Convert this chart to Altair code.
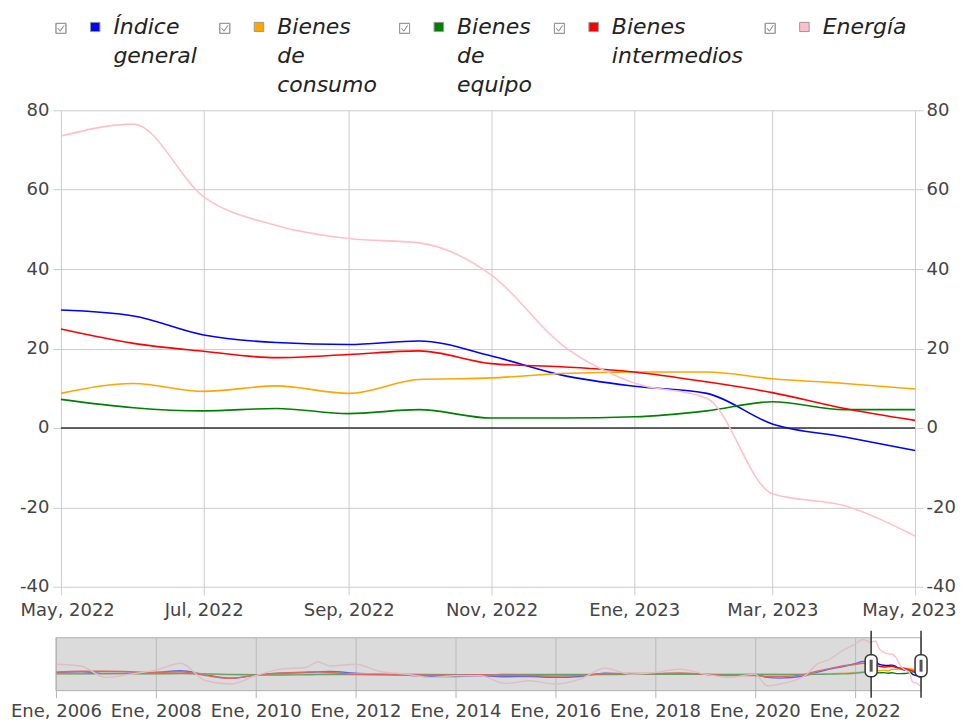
import altair as alt
import pandas as pd

# ---------------- data ----------------
series = ["Índice general", "Bienes de consumo", "Bienes de equipo", "Bienes intermedios", "Energía"]
colors = ["#0000ff", "#ffa500", "#008000", "#ff0000", "#ffc0cb"]
meses = ["Ene", "Feb", "Mar", "Abr", "May", "Jun", "Jul", "Ago", "Sep", "Oct", "Nov", "Dic"]

# zoomed period (monthly)
main_dates = ["2022-05", "2022-06", "2022-07", "2022-08", "2022-09", "2022-10", "2022-11",
              "2022-12", "2023-01", "2023-02", "2023-03", "2023-04", "2023-05"]
indice_main = [29.7, 28.2, 23.4, 21.5, 21.0, 21.9, 18.1, 13.3, 10.5, 8.7, 1.0, -2.3, -5.7]
consumo_main = [8.7, 11.2, 9.2, 10.6, 8.7, 12.2, 12.6, 13.7, 14.1, 14.1, 12.4, 11.2, 9.8]
equipo_main = [7.2, 5.1, 4.3, 4.9, 3.6, 4.6, 2.5, 2.5, 2.8, 4.3, 6.6, 4.6, 4.6]
intermedios_main = [24.9, 21.3, 19.3, 17.7, 18.5, 19.4, 16.2, 15.4, 14.1, 11.6, 8.9, 4.9, 1.9]
energia_main = [73.5, 76.5, 58.2, 51.0, 47.7, 46.6, 38.5, 21.0, 11.3, 7.5, -16.6, -19.6, -27.2]

# history shown in the navigator
hist_dates = ["2006-01", "2006-07", "2007-01", "2007-07", "2008-01", "2008-07", "2009-01", "2009-07",
              "2010-01", "2010-07", "2011-01", "2011-04", "2011-07", "2012-01", "2012-07", "2013-01",
              "2013-07", "2014-01", "2014-07", "2015-01", "2015-07", "2016-01", "2016-07", "2017-01",
              "2017-07", "2018-01", "2018-07", "2019-01", "2019-07", "2020-01", "2020-04", "2020-07",
              "2021-01", "2021-04", "2021-07", "2021-10", "2022-01", "2022-03"]
indice_hist = [5.3, 6.8, 3.0, 3.8, 5.3, 9.0, 0.0, -8.0, -0.8, 3.0, 5.3, 6.5, 7.5, 3.8, 1.5, -0.8,
               -3.8, -3.8, -2.3, -4.5, -3.8, -6.0, -3.8, 3.8, 0.8, 1.5, 2.3, 0.8, 0.0, 0.8, -6.0, -7.5,
               -2.3, 5.3, 12.8, 18.0, 25.0, 30.0]
consumo_hist = [3, 3, 3, 2.5, 3, 4, 2, 0, 0, 0.5, 1.5, 2, 2, 2.5, 2, 2,
                1.5, 0.5, 0, 0.5, 0, -0.5, -0.5, 1, 1.5, 1, 1, 1, 0.5, 1, 1.5, 1,
                0.5, 1.5, 2.5, 3.5, 5, 7]
equipo_hist = [2, 2, 2.5, 2.5, 2, 2.5, 2, 1, 0, -0.5, 0, 0.3, 0.5, 0.5, 0.5, 0,
               0, 0, 0, 0.5, 0.5, 0.5, 0.5, 0.5, 1, 1, 1, 1, 1, 0.5, 0.5, 0.5,
               0.5, 1, 1.5, 2, 3.5, 5]
intermedios_hist = [6, 8, 8, 7, 5, 7, -2, -8, -1, 4, 6, 6.5, 5, 1, 0, 0,
                    -1, -1, 0, -1, -1.5, -3, -2, 3, 3, 3, 4, 1, -2, -2, -4, -4,
                    1, 8, 14, 20, 23, 26]
energia_hist = [24, 20, -6, 1.5, 10.5, 26, -13.5, -21, -2.3, 12.8, 16.6, 29, 20, 24, 7.5, 1.5,
                -6, -2.3, -2.3, -19.6, -13.5, -21, -9.8, 15, 1.5, 5.3, 12.8, 1.5, -6, 1.5, -25, -21,
                -2.3, 24, 35, 54, 69, 80]

y_ticks = [-40, -20, 0, 20, 40, 60, 80]
main_tick_dates = main_dates[::2]
nav_tick_years = [2006, 2008, 2010, 2012, 2014, 2016, 2018, 2020, 2022]

main_cols = [indice_main, consumo_main, equipo_main, intermedios_main, energia_main]
hist_cols = [indice_hist, consumo_hist, equipo_hist, intermedios_hist, energia_hist]


def ts(ym):
    return ym + "-01T00:00:00"


def dt(ym):
    y, m = ym.split("-")
    return alt.DateTime(year=int(y), month=int(m), date=1)


def frame(dates, cols):
    rows = []
    for s, vals in zip(series, cols):
        for d, v in zip(dates, vals):
            rows.append({"fecha": ts(d), "serie": s, "leyenda": s, "valor": v})
    return pd.DataFrame(rows)


main_df = frame(main_dates, main_cols)
nav_df = frame(hist_dates + main_dates, [h + m for h, m in zip(hist_cols, main_cols)])

month_arr = "[" + ",".join("'%s'" % m for m in meses) + "]"
label_expr = month_arr + "[month(datum.value)] + ', ' + year(datum.value)"
num_expr = "'' + datum.value"
# every legend label on three lines (blank lines padded) so entries stay top-aligned
legend_expr = "slice(split(datum.label + ' \u00a0 \u00a0', ' '), 0, 3)"

FONT = "DejaVu Sans"
W, H = 855, 477
NW, NH = 855, 53

# ---------------- main chart ----------------
x_main = alt.X(
    "fecha:T", title=None,
    scale=alt.Scale(domain=[dt(main_dates[0]), dt(main_dates[-1])], nice=False),
    axis=alt.Axis(values=[dt(d) for d in main_tick_dates], labelExpr=label_expr, grid=True,
                  gridColor="#cccccc", tickColor="#cccccc", tickSize=8, labelPadding=7,
                  labelFlush=True, labelFlushOffset=41, labelOverlap=False,
                  domain=False, labelFontSize=18, labelColor="#444444", labelFont=FONT),
)
y_scale = alt.Scale(domain=[y_ticks[0], y_ticks[-1]], nice=False)
y_main = alt.Y(
    "valor:Q", title=None, scale=y_scale,
    axis=alt.Axis(orient="left", values=y_ticks, labelExpr=num_expr, grid=True, gridColor="#cccccc",
                  tickColor="#cccccc", tickSize=8, labelPadding=4, domain=False, labelFontSize=18,
                  labelColor="#444444", labelFont=FONT, labelFlush=False),
)
stroke_scale = alt.Scale(domain=series, range=colors)

lines = alt.Chart(main_df).mark_line(interpolate="monotone", strokeWidth=1.6).encode(
    x=x_main, y=y_main,
    stroke=alt.Stroke("serie:N", scale=stroke_scale, legend=None, sort=series),
)

# legend symbol: checkbox + coloured square (unit = 10 px)
SYMBOL = ("M-2.2,0.6 L-1.2,0.6 L-1.2,1.6 L-2.2,1.6 L-2.2,0.6 L-2.2,1.6 L-1.2,1.6 L-1.2,0.6 L-2.2,0.6 "
          "M-2.0,1.1 L-1.78,1.38 L-1.4,0.82 L-1.78,1.38 L-2.0,1.1 "
          "M1.25,0.5 L2.2,0.5 L2.2,1.42 L1.25,1.42 Z")

legend_layer = alt.Chart(main_df).mark_point(filled=True, size=1, opacity=0).encode(
    x=x_main, y=y_main,
    fill=alt.Fill(
        "leyenda:N", scale=alt.Scale(domain=series, range=colors), sort=series,
        legend=alt.Legend(
            title=None, orient="none", legendX=6, legendY=-104, direction="horizontal",
            symbolType=SYMBOL, symbolSize=400, symbolStrokeColor="#999999", symbolStrokeWidth=1,
            symbolOpacity=1, labelExpr=legend_expr, labelBaseline="top",
            labelFont=FONT, labelFontStyle="italic", labelFontSize=22, labelColor="#222222",
            labelOffset=24.5, columnPadding=20, padding=0, labelLimit=300,
        ),
    ),
)

zero_df = pd.DataFrame({"valor": [0]})
zero = alt.Chart(zero_df).mark_rule(color="#333333", strokeWidth=1.5).encode(
    y=alt.Y("valor:Q", title=None, scale=y_scale,
            axis=alt.Axis(orient="right", values=y_ticks, labelExpr=num_expr, grid=False,
                          tickColor="#cccccc", tickSize=8, labelFlush=False,
                          labelPadding=3, domain=False, labelFontSize=18, labelColor="#444444",
                          labelFont=FONT)),
)

main = alt.layer(zero, alt.layer(lines, legend_layer)).resolve_scale(y="independent").properties(
    width=W, height=H)

# ---------------- navigator ----------------
nav_scale = alt.Scale(domain=[dt(hist_dates[0]), dt(main_dates[-1])], range=[-5, NW + 6], nice=False)
nav_axis = alt.Axis(values=[alt.DateTime(year=y, month=1, date=1) for y in nav_tick_years],
                    labelExpr=label_expr, grid=True, gridColor="#b5b5b5", tickColor="#b5b5b5",
                    tickSize=7, labelPadding=5, domain=False, labelFontSize=18, labelColor="#444444",
                    labelFont=FONT, labelFlush=False, labelOverlap=False)


def xnav(field):
    return alt.X(field, title=None, scale=nav_scale, axis=nav_axis)


nav_lines = alt.Chart(nav_df).mark_line(interpolate="monotone", strokeWidth=1.4).encode(
    x=xnav("fecha:T"),
    y=alt.Y("valor:Q", scale=alt.Scale(domain=[-36, 84], nice=False), axis=None),
    stroke=alt.Stroke("serie:N", scale=stroke_scale, legend=None, sort=series),
)

sel_df = pd.DataFrame({"inicio": [ts(hist_dates[0])], "sel_ini": [ts(main_dates[0])],
                       "sel_fin": [ts(main_dates[-1])]})
overlay = alt.Chart(sel_df).mark_rect(color="#bdbdbd", opacity=0.55).encode(
    x=xnav("inicio:T"), x2="sel_ini:T", y=alt.value(0), y2=alt.value(NH))
box = alt.Chart(sel_df).mark_rect(fillOpacity=0, stroke="#b0b0b0", strokeWidth=1).encode(
    x=xnav("inicio:T"), x2="sel_fin:T", y=alt.value(0), y2=alt.value(NH))

handle_df = pd.DataFrame({"fecha": [ts(main_dates[0]), ts(main_dates[-1])]})
h_rules = alt.Chart(handle_df).mark_rule(color="#333333", strokeWidth=1.5).encode(
    x=xnav("fecha:T"), y=alt.value(-7), y2=alt.value(60))
h_rects = alt.Chart(handle_df).mark_rect(width=12, cornerRadius=5, fill="white", stroke="#333333",
                                          strokeWidth=1.5).encode(
    x=xnav("fecha:T"), y=alt.value(17), y2=alt.value(39))
h_grip = alt.Chart(handle_df).mark_rect(width=3, fill="#555555").encode(
    x=xnav("fecha:T"), y=alt.value(22), y2=alt.value(34))

nav = alt.layer(nav_lines, overlay, box, h_rules, h_rects, h_grip).properties(width=NW, height=NH)

chart = (
    alt.vconcat(main, nav, spacing=10)
    .resolve_scale(x="independent", y="independent", fill="independent")
    .resolve_legend(fill="independent")
    .properties(padding={"left": 2, "top": -2, "right": 0, "bottom": 2}, background="white")
    .configure(font=FONT, style={"guide-label": {"lineHeight": 29}})
    .configure_view(strokeWidth=0)
)

chart.save("out.html", embed_options={"renderer": "svg", "actions": False})
